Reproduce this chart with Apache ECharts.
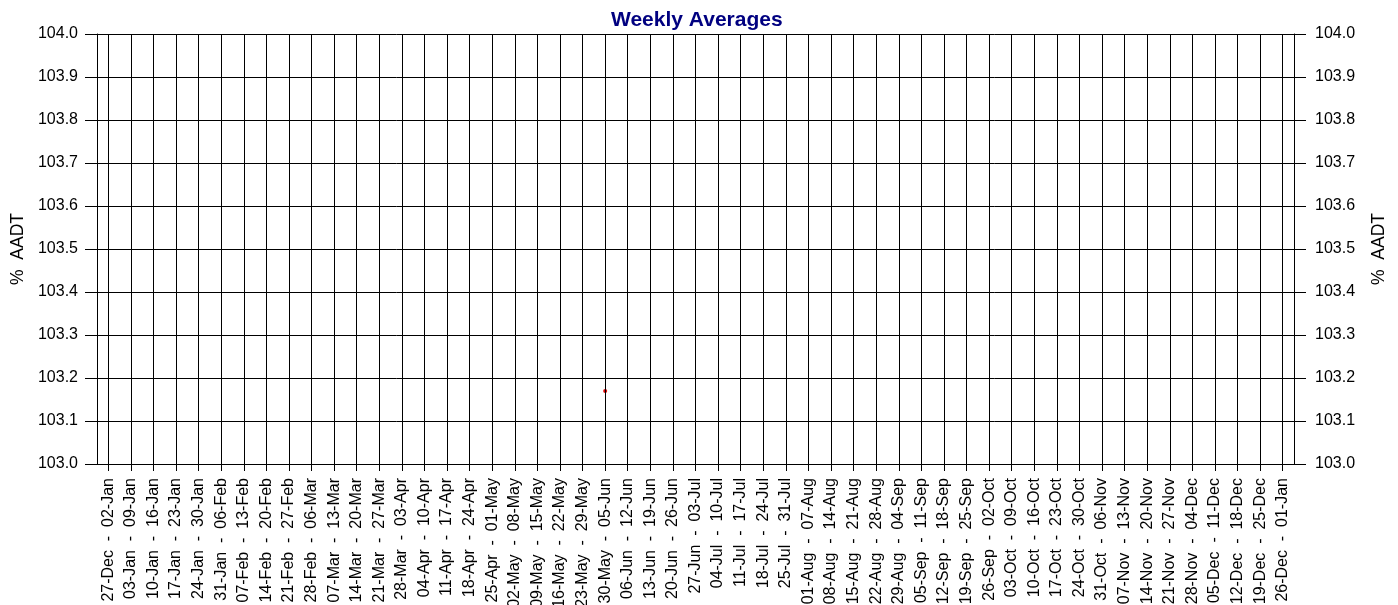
<!DOCTYPE html>
<html>
<head>
<meta charset="utf-8">
<script src="https://cdn.jsdelivr.net/npm/echarts@6/dist/echarts.min.js"></script>
<style>
html,body{margin:0;padding:0;background:#fff;}
#chart{width:1398px;height:605px;}
</style>
</head>
<body>
<div id="chart"></div>
<script>
const weekStarts = ["27-Dec","03-Jan","10-Jan","17-Jan","24-Jan","31-Jan","07-Feb","14-Feb","21-Feb","28-Feb","07-Mar","14-Mar","21-Mar","28-Mar","04-Apr","11-Apr","18-Apr","25-Apr","02-May","09-May","16-May","23-May","30-May","06-Jun","13-Jun","20-Jun","27-Jun","04-Jul","11-Jul","18-Jul","25-Jul","01-Aug","08-Aug","15-Aug","22-Aug","29-Aug","05-Sep","12-Sep","19-Sep","26-Sep","03-Oct","10-Oct","17-Oct","24-Oct","31-Oct","07-Nov","14-Nov","21-Nov","28-Nov","05-Dec","12-Dec","19-Dec","26-Dec"];
const weekEnds = ["02-Jan","09-Jan","16-Jan","23-Jan","30-Jan","06-Feb","13-Feb","20-Feb","27-Feb","06-Mar","13-Mar","20-Mar","27-Mar","03-Apr","10-Apr","17-Apr","24-Apr","01-May","08-May","15-May","22-May","29-May","05-Jun","12-Jun","19-Jun","26-Jun","03-Jul","10-Jul","17-Jul","24-Jul","31-Jul","07-Aug","14-Aug","21-Aug","28-Aug","04-Sep","11-Sep","18-Sep","25-Sep","02-Oct","09-Oct","16-Oct","23-Oct","30-Oct","06-Nov","13-Nov","20-Nov","27-Nov","04-Dec","11-Dec","18-Dec","25-Dec","01-Jan"];
const categories = weekStarts.map((s, i) => s + "  -  " + weekEnds[i]);
const weeklyAverage = [null,null,null,null,null,null,null,null,null,null,null,null,null,null,null,null,null,null,null,null,null,null,103.17,null,null,null,null,null,null,null,null,null,null,null,null,null,null,null,null,null,null,null,null,null,null,null,null,null,null,null,null,null,null];
const yMin = 103.0, yMax = 104.0, yStep = 0.1;

const FONT = '"Liberation Sans", Arial, sans-serif';
const chart = echarts.init(document.getElementById('chart'));
const yAxisBase = {
  type: 'value', min: yMin, max: yMax, interval: yStep,
  name: '%  AADT', nameLocation: 'middle', nameRotate: 90,
  nameTextStyle: { fontFamily: FONT, fontSize: 17.5, color: '#000' },
  axisLine: { show: true, lineStyle: { color: '#000', width: 1 } },
  axisTick: { show: true, length: 12, inside: false, lineStyle: { color: '#000' } },
  axisLabel: { fontFamily: FONT, fontSize: 16, color: '#000', formatter: v => v.toFixed(1) }
};
chart.setOption({
  animation: false,
  backgroundColor: '#fff',
  title: {
    text: 'Weekly Averages', left: 606, top: 5,
    textStyle: { fontFamily: FONT, fontSize: 21, fontWeight: 'bold', color: '#000080' }
  },
  grid: { left: 97, right: 104, top: 34, bottom: 141, containLabel: false, outerBoundsMode: 'none' },
  xAxis: {
    type: 'category', data: categories, boundaryGap: true,
    axisLine: { show: true, lineStyle: { color: '#000', width: 1 } },
    axisTick: { show: true, alignWithLabel: true, interval: 0, length: 7, lineStyle: { color: '#000' } },
    axisLabel: { interval: 0, rotate: 90, fontFamily: FONT, fontSize: 16, color: '#000', margin: 14 },
    splitLine: { show: false }
  },
  yAxis: [
    Object.assign({}, yAxisBase, { position: 'left', nameGap: 70,
      axisLabel: Object.assign({}, yAxisBase.axisLabel, { margin: 19 }),
      splitLine: { show: true, lineStyle: { color: '#000', width: 1 } } }),
    Object.assign({}, yAxisBase, { position: 'right', nameGap: 76,
      axisLabel: Object.assign({}, yAxisBase.axisLabel, { margin: 21 }),
      splitLine: { show: false } })
  ],
  series: [{
    type: 'line', data: weeklyAverage, yAxisIndex: 0,
    symbol: 'circle', symbolSize: 4, showSymbol: true,
    itemStyle: { color: '#e00000' }, lineStyle: { color: '#e00000', width: 1 },
    connectNulls: false,
    markLine: {
      silent: true, symbol: 'none', label: { show: false },
      lineStyle: { color: '#000', width: 1, type: 'solid' },
      emphasis: { disabled: true },
      data: categories.map(c => ({ xAxis: c }))
    }
  }]
});
</script>
</body>
</html>
